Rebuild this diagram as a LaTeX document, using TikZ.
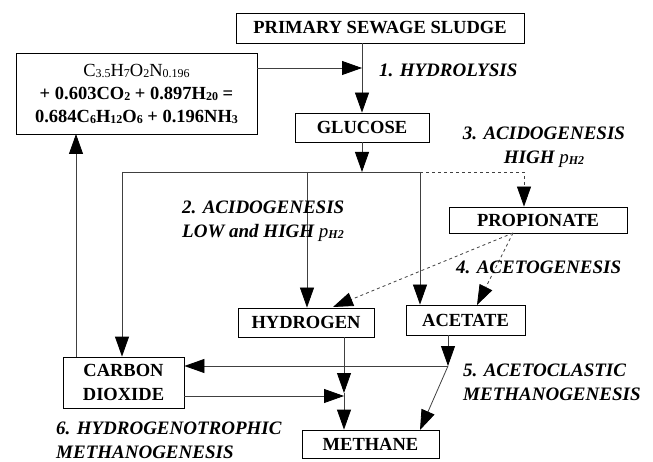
\documentclass[tikz,border=0pt]{standalone}
\usepackage{fontspec}
\setmainfont{Liberation Serif}
\usetikzlibrary{arrows.meta}
\newcommand{\sub}[1]{{\fontsize{12}{12}\selectfont\raisebox{-1pt}{#1}}}
\tikzset{
  box/.style={draw, line width=0.8pt, inner sep=0pt, align=center,
    font=\fontsize{18.5}{24}\selectfont\bfseries},
  lbl/.style={anchor=west, align=left, inner sep=0pt,
    font=\fontsize{19}{24}\selectfont\bfseries\itshape},
  arr/.style={line width=0.8pt, black!75, -{Triangle[length=20pt,width=14pt,color=black]}},
  ln/.style={line width=0.8pt, black!75},
  dsh/.style={dash pattern=on 3pt off 3pt}
}
\begin{document}
\begin{tikzpicture}[x=1pt,y=-1pt]
      \useasboundingbox (0,0) rectangle (653,462);

      \node[box, minimum width=288, minimum height=30] (sludge) at (380,28) {PRIMARY SEWAGE SLUDGE};
      \node[box, minimum width=241, minimum height=81, font=\fontsize{18.5}{23}\selectfont\bfseries] (eqn) at (136.5,93.5)
        {{\mdseries C\sub{3.5}H\sub{7}O\sub{2}N\sub{0.196}}\\+ 0.603CO\sub{2} + 0.897H\sub{20} =\\0.684C\sub{6}H\sub{12}O\sub{6} + 0.196NH\sub{3}};
      \node[box, minimum width=134, minimum height=29] (glucose) at (362,127.5) {GLUCOSE};
      \node[box, minimum width=178, minimum height=26] (propionate) at (538,220) {PROPIONATE};
      \node[box, minimum width=136, minimum height=29] (hydrogen) at (306,322.5) {HYDROGEN};
      \node[box, minimum width=119, minimum height=30] (acetate) at (465.5,320) {ACETATE};
      \node[box, minimum width=121, minimum height=51] (carbon) at (123.5,382.5) {CARBON\\DIOXIDE};
      \node[box, minimum width=137, minimum height=28] (methane) at (370.5,444) {METHANE};

      \coordinate (S0) at (122,172);
      \coordinate (S1) at (307,172);
      \coordinate (S2) at (420,172);
      \coordinate (S3) at (524,172);
      \coordinate (Pr) at (513,233);
      \coordinate (A1) at (448,366);
      \coordinate (H1) at (344,393);

      \draw[arr] (glucose.north |- sludge.south) -- (glucose.north);
      \draw[arr] (eqn.east |- 0,68) -- (glucose.north |- 0,68);
      \draw[arr] (glucose.south) -- (glucose.south |- S0);

      \draw[ln] (S0) -- (S2);
      \draw[arr, dsh] (S2) -- (S3) -- (S3 |- propionate.north);
      \draw[arr] (S0) -- (S0 |- carbon.north);
      \draw[arr] (S1) -- (S1 |- hydrogen.north);
      \draw[arr] (S2) -- (S2 |- acetate.north);

      \draw[arr, dsh] (Pr) -- (333,307);
      \draw[arr, dsh] (Pr) -- (477,305);

      \draw[arr] (A1 |- acetate.south) -- (A1);
      \draw[arr] (A1) -- (carbon.east |- A1);
      \draw[arr] (A1) -- (420,430);

      \draw[arr] (H1 |- hydrogen.south) -- (H1);
      \draw[arr] (H1) -- (H1 |- methane.north);
      \draw[arr] (carbon.east |- 0,396) -- (H1 |- 0,396);
      \draw[arr] (76,357) -- (76,134);

      \node[lbl] (l1) at (379,70) {1. HYDROLYSIS};
      \node[lbl, align=center, anchor=center] (l3) at (544,147) {3. ACIDOGENESIS\\HIGH {\mdseries p}\sub{H2}};
      \node[lbl] (l2) at (182,221) {2. ACIDOGENESIS\\LOW and HIGH {\mdseries p}\sub{H2}};
      \node[lbl] (l4) at (456,267) {4. ACETOGENESIS};
      \node[lbl] (l5) at (463,382) {5. ACETOCLASTIC\\METHANOGENESIS};
      \node[lbl] (l6) at (56,440) {6. HYDROGENOTROPHIC\\METHANOGENESIS};
    \end{tikzpicture}
\end{document}
